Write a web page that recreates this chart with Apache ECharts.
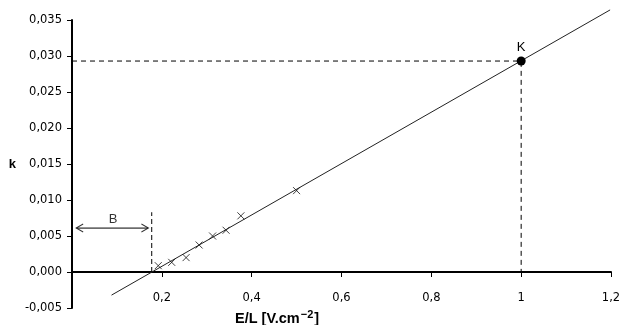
<!DOCTYPE html>
<html><head><meta charset="utf-8">
<script src="https://cdn.jsdelivr.net/npm/echarts@6/dist/echarts.min.js"></script>
<style>html,body{margin:0;padding:0;background:#fff}#c{width:621px;height:325px}</style>
</head><body><div id="c"></div>
<script>
// measured points
const pointsX = [0.192, 0.222, 0.254, 0.283, 0.313, 0.343, 0.376, 0.500];
const pointsY = [0.00088, 0.00134, 0.0020, 0.00375, 0.0050, 0.0058, 0.0078, 0.0113];
// fitted line endpoints
const fitX = [0.088, 1.198];
const fitY = [-0.00321, 0.0364];
// point K
const kX = [1.0];
const kY = [0.0293];
// B marker: dashed vertical at intercept and arrow
const bLineX = [0.1775, 0.1775];
const bLineY = [0.0, 0.0083];
const arrowX = [0.0104, 0.169];
const arrowY = [0.0061, 0.0061];
const bLabelX = [0.0913];
const bLabelY = [0.0073];
// axis settings
const xTicks = [0, 0.2, 0.4, 0.6, 0.8, 1.0, 1.2];
const yTicks = [-0.005, 0, 0.005, 0.010, 0.015, 0.020, 0.025, 0.030, 0.035];

const zip = (a, b) => a.map((v, i) => [v, b[i]]);
const font = 'Verdana, "DejaVu Sans", sans-serif';
const chart = echarts.init(document.getElementById('c'));
chart.setOption({
  animation: false,
  backgroundColor: '#fff',
  title: {
    text: '{b|E/L [V.cm}{s|−2}{b|]}',
    left: 230, top: 304,
    textStyle: { rich: {
      b: { fontFamily: 'Arial, "Liberation Sans", sans-serif', fontWeight: 'bold', fontSize: 14.5, color: '#000', verticalAlign: 'bottom', lineHeight: 17 },
      s: { fontFamily: 'Arial, "Liberation Sans", sans-serif', fontWeight: 'bold', fontSize: 11, color: '#000', verticalAlign: 'top', lineHeight: 17, padding: [0, 1, 8, 1] }
    } }
  },
  grid: { left: 72, right: 10, top: 20, bottom: 17, containLabel: false, outerBoundsMode: 'none' },
  xAxis: {
    type: 'value', min: xTicks[0], max: xTicks[xTicks.length - 1], interval: 0.2,
    axisLine: { onZero: true, lineStyle: { color: '#000', width: 2 } },
    axisTick: { show: true, length: 5, inside: false, lineStyle: { color: '#000', width: 1 } },
    splitLine: { show: false },
    axisLabel: { showMinLabel: false, margin: -16, color: '#000', fontSize: 11.5, fontFamily: font,
      formatter: v => String(Math.round(v * 10) / 10).replace('.', ',') }
  },
  yAxis: {
    type: 'value', min: yTicks[0], max: yTicks[yTicks.length - 1], interval: 0.005,
    name: 'k', nameLocation: 'middle', nameGap: 56, nameRotate: 0,
    nameTextStyle: { fontWeight: 'bold', fontSize: 13, color: '#000', fontFamily: 'Arial, "Liberation Sans", sans-serif' },
    axisLine: { show: true, onZero: false, lineStyle: { color: '#000', width: 2 } },
    axisTick: { show: true, length: 5, lineStyle: { color: '#000' } },
    splitLine: { show: false },
    axisLabel: { margin: 10, color: '#000', fontSize: 11.5, fontFamily: font,
      formatter: v => (Math.round(v * 1000) / 1000).toFixed(3).replace('.', ',') }
  },
  series: [
    { type: 'line', data: zip(fitX, fitY), symbol: 'none', clip: false, lineStyle: { color: '#222', width: 1 }, z: 2 },
    { type: 'line', data: [[0, kY[0]], [kX[0], kY[0]], [kX[0], 0]], symbol: 'none',
      lineStyle: { color: '#000', width: 1, type: [5, 4] }, z: 1 },
    { type: 'line', data: zip(bLineX, bLineY), symbol: 'none',
      lineStyle: { color: '#000', width: 1, type: [5, 3] }, z: 1 },
    { type: 'line', data: zip(arrowX, arrowY), symbol: 'none', lineStyle: { color: '#000', width: 1 }, z: 1 },
    { type: 'scatter', data: [zip(arrowX, arrowY)[0]], symbol: 'path://M8,0L0,4L8,8', symbolSize: [7, 8],
      symbolOffset: [3, 0],
      itemStyle: { color: 'transparent', borderColor: '#000', borderWidth: 1 }, z: 3 },
    { type: 'scatter', data: [zip(arrowX, arrowY)[1]], symbol: 'path://M0,0L8,4L0,8', symbolSize: [7, 8],
      symbolOffset: [-3, 0],
      itemStyle: { color: 'transparent', borderColor: '#000', borderWidth: 1 }, z: 3 },
    { type: 'scatter', data: zip(bLabelX, bLabelY), symbolSize: 0,
      label: { show: true, position: 'inside', formatter: 'B', color: '#000', fontSize: 13, fontFamily: 'Arial, "Liberation Sans", sans-serif' } },
    { type: 'scatter', data: zip(pointsX, pointsY), symbol: 'path://M0,0L10,10M10,0L0,10', symbolSize: 7,
      itemStyle: { color: 'transparent', borderColor: '#111', borderWidth: 1 }, z: 4 },
    { type: 'scatter', data: zip(kX, kY), symbol: 'circle', symbolSize: 9, itemStyle: { color: '#000', opacity: 1 }, z: 5,
      label: { show: true, position: 'top', distance: 3, formatter: 'K', color: '#000', fontSize: 13, fontFamily: 'Arial, "Liberation Sans", sans-serif' } }
  ]
});
</script></body></html>
